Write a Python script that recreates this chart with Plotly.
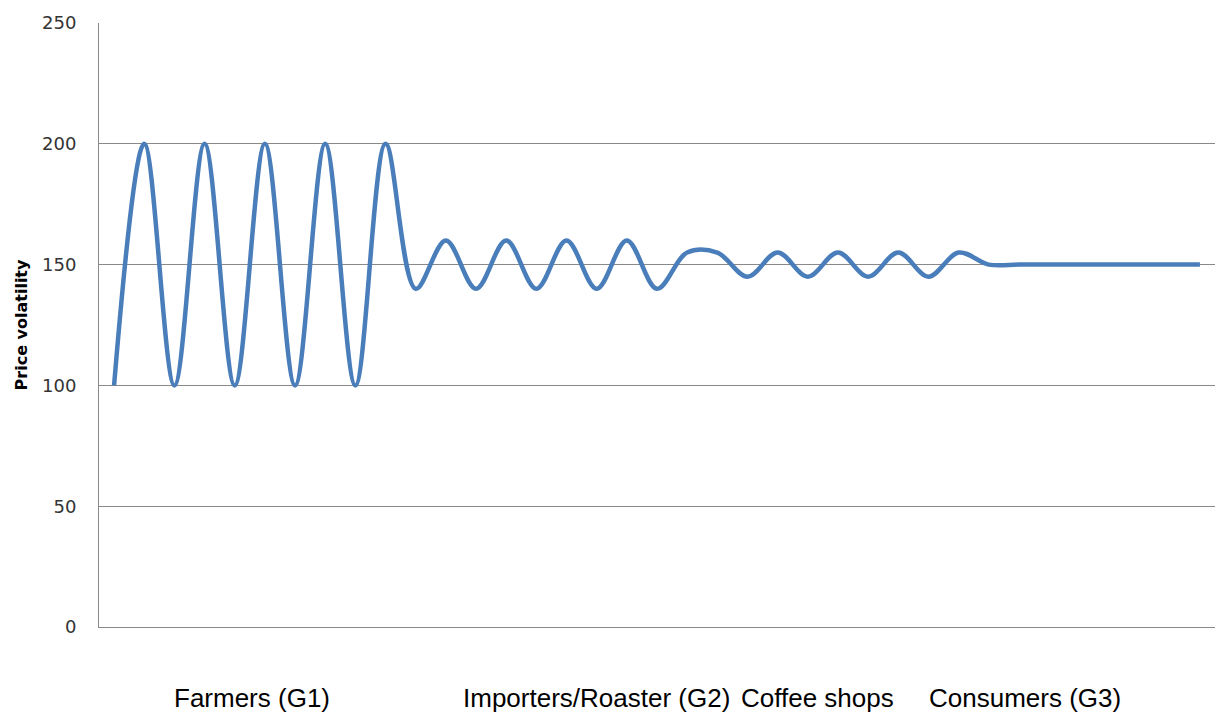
import plotly.graph_objects as go

# Price volatility along the coffee supply chain
step = list(range(37))
volatility = [
    100, 200, 100, 200, 100, 200, 100, 200, 100, 200,   # farmers
    140, 160, 140, 160, 140, 160, 140, 160, 140,        # importers / roasters
    155, 155, 145, 155, 145, 155, 145, 155, 145, 155,   # coffee shops
    150, 150, 150, 150, 150, 150, 150, 150,             # consumers
]

y_ticks = [0, 50, 100, 150, 200, 250]

stage_labels = ["Farmers (G1)", "Importers/Roaster (G2)", "Coffee shops", "Consumers (G3)"]
stage_label_x = [252, 596, 817, 1025]  # label centres, px from left edge

W, H = 1216, 712
ML, MR, MT, MB = 99, 1, 23, 85
plot_w = W - ML - MR

fig = go.Figure()
fig.add_trace(go.Scatter(
    x=step, y=volatility, mode="lines",
    line=dict(color="#4A7EBB", width=4.5, shape="spline", smoothing=1.0),
    hoverinfo="skip", showlegend=False,
))

grid = "#898989"
fig.update_layout(
    width=W, height=H,
    margin=dict(l=ML, r=MR, t=MT, b=MB),
    paper_bgcolor="white", plot_bgcolor="white",
    font=dict(family="DejaVu Sans", color="#333333"),
    xaxis=dict(
        range=[-0.5, len(step) - 0.5], showticklabels=False, showgrid=False,
        zeroline=False, showline=True, linecolor=grid, linewidth=1, ticks="",
        fixedrange=True,
    ),
    yaxis=dict(
        range=[0, 250], tickvals=y_ticks, ticktext=[str(v) for v in y_ticks],
        showgrid=True, gridcolor=grid, gridwidth=1, zeroline=False,
        showline=True, linecolor=grid, linewidth=1, ticks="",
        tickfont=dict(family="DejaVu Sans", size=18, color="#333333"),
        ticklabelstandoff=18,
        title=dict(text="<b>Price volatility</b>", standoff=10,
                   font=dict(family="DejaVu Sans", size=16, color="#000000")),
        fixedrange=True,
    ),
)

for label, px in zip(stage_labels, stage_label_x):
    fig.add_annotation(
        text=label, xref="paper", yref="paper",
        x=(px - ML) / plot_w, y=-(698 - (H - MB)) / (H - MT - MB),
        xanchor="center", yanchor="middle", showarrow=False,
        font=dict(family="Liberation Sans", size=26, color="#000000"),
    )

fig.write_html("out.html")
